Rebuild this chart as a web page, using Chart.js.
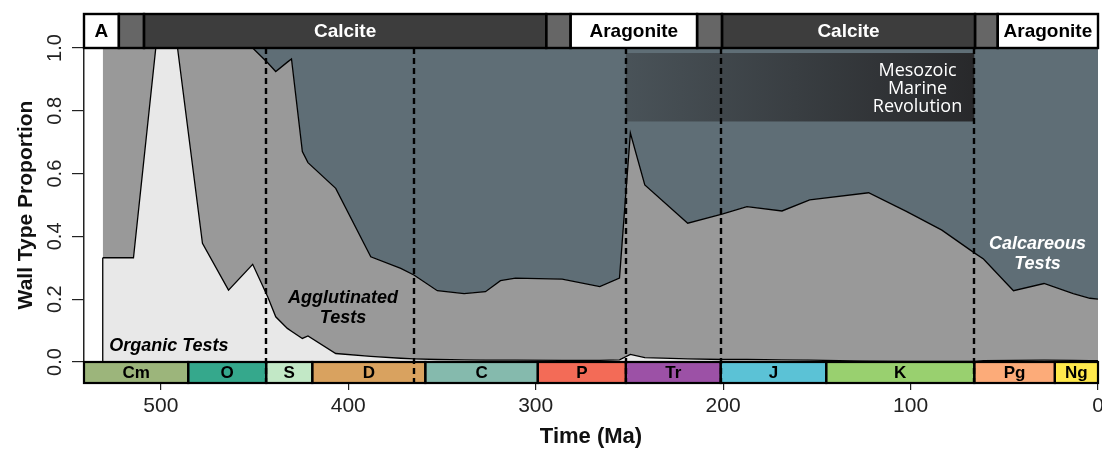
<!DOCTYPE html>
<html>
<head>
<meta charset="utf-8">
<script src="https://cdn.jsdelivr.net/npm/chart.js@4.4.1/dist/chart.umd.min.js"></script>
<style>
html,body{margin:0;padding:0;background:#fff;}
#wrap{width:1102px;height:450px;position:relative;}
</style>
</head>
<body>
<div id="wrap"><canvas id="c" width="1102" height="450"></canvas></div>
<script>
// ---- data (Ma, proportions) ----
const ages = [531, 514.6, 502.7, 491.1, 477.8, 463.9, 451, 443, 438.7, 432.5, 430.3, 424.5, 421.5, 406.7, 388, 372, 365, 352.5, 338.2, 326.8, 318.8, 310.8, 285.9, 265.8, 255.3, 249.5, 241.8, 218.9, 200.6, 187.3, 168.6, 153.8, 122.4, 102, 83.3, 65.6, 61.1, 45.1, 28.8, 13.2, 4.3, 0];
const organic = [0.332, 0.332, 1.0, 1.0, 0.378, 0.229, 0.311, 0.208, 0.144, 0.107, 0.098, 0.075, 0.083, 0.027, 0.018, 0.012, 0.010, 0.008, 0.007, 0.006, 0.006, 0.006, 0.005, 0.005, 0.007, 0.024, 0.014, 0.010, 0.008, 0.008, 0.007, 0.006, 0.003, 0.002, 0.002, 0.002, 0.004, 0.005, 0.006, 0.005, 0.004, 0.004];
const agglutinated = [0.668, 0.668, 0.0, 0.0, 0.622, 0.771, 0.689, 0.745, 0.781, 0.848, 0.867, 0.595, 0.552, 0.526, 0.317, 0.286, 0.267, 0.219, 0.211, 0.218, 0.253, 0.261, 0.259, 0.235, 0.260, 0.705, 0.550, 0.432, 0.463, 0.487, 0.474, 0.510, 0.536, 0.477, 0.418, 0.344, 0.324, 0.222, 0.244, 0.213, 0.199, 0.196];
const calcareous = [0, 0, 0, 0, 0, 0, 0, 0.047, 0.075, 0.045, 0.035, 0.330, 0.365, 0.447, 0.665, 0.702, 0.723, 0.773, 0.782, 0.776, 0.741, 0.733, 0.736, 0.760, 0.733, 0.271, 0.436, 0.558, 0.529, 0.505, 0.519, 0.484, 0.461, 0.521, 0.580, 0.654, 0.672, 0.773, 0.750, 0.782, 0.797, 0.800];

const xTicks = [500, 400, 300, 200, 100, 0];
const yTicks = [0, 0.2, 0.4, 0.6, 0.8, 1.0];

const periodNames = ['Cm', 'O', 'S', 'D', 'C', 'P', 'Tr', 'J', 'K', 'Pg', 'Ng'];
const periodBounds = [541, 485.4, 443.8, 419.2, 358.9, 298.9, 251.9, 201.3, 145, 66, 23.03, 0];
const periodColors = ['#9cb57b', '#35a88c', '#c2e8c6', '#d9a25f', '#85baad', '#f36b57', '#9c51a6', '#5bc2d6', '#99d06f', '#fcab79', '#ffe94c'];

const seaNames = ['A', '', 'Calcite', '', 'Aragonite', '', 'Calcite', '', 'Aragonite'];
const seaBounds = [541, 522.4, 509, 294.4, 281.4, 213.9, 200.6, 65.6, 53.5, 0];
const seaColors = ['#ffffff', '#666666', '#3d3d3d', '#666666', '#ffffff', '#666666', '#3d3d3d', '#666666', '#ffffff'];
const seaTextColors = ['#000', '#fff', '#fff', '#fff', '#000', '#fff', '#fff', '#fff', '#000'];

const extinctions = [443.8, 365, 251.9, 201.3, 66];
const mmrAges = [251.9, 66];
const mmrRange = [0.766, 0.984];
const mmrLines = ['Mesozoic', 'Marine', 'Revolution'];

const FONT = "'Liberation Sans', Arial, Helvetica, sans-serif";

const deco = {
  id: 'deco',
  afterDatasetsDraw(chart) {
    const {ctx, chartArea: ca, scales: {x, y}} = chart;
    ctx.save();
    // organic left edge
    const p0 = chart.getDatasetMeta(0).data[0];
    ctx.strokeStyle = '#000'; ctx.lineWidth = 1.3;
    ctx.beginPath(); ctx.moveTo(p0.x, y.getPixelForValue(0)); ctx.lineTo(p0.x, p0.y); ctx.stroke();

    // Mesozoic Marine Revolution box
    const xl = x.getPixelForValue(mmrAges[0]), xr = x.getPixelForValue(mmrAges[1]);
    const yt = y.getPixelForValue(mmrRange[1]), yb = y.getPixelForValue(mmrRange[0]);
    const g = ctx.createLinearGradient(xl, 0, xr, 0);
    g.addColorStop(0, 'rgba(38,38,40,0.38)');
    g.addColorStop(1, 'rgba(38,38,40,0.97)');
    ctx.fillStyle = g;
    ctx.fillRect(xl, yt, xr - xl, yb - yt);
    ctx.fillStyle = '#fff';
    ctx.font = "18px 'Open Sans', 'Liberation Sans', sans-serif";
    ctx.textAlign = 'center'; ctx.textBaseline = 'middle';
    const mx = x.getPixelForValue(96.3);
    const mys = [0.927, 0.870, 0.814];
    mmrLines.forEach((t, i) => ctx.fillText(t, mx, y.getPixelForValue(mys[i])));

    // period bar
    const barTop = ca.bottom, barH = 21;
    for (let i = 0; i < periodNames.length; i++) {
      const a = x.getPixelForValue(periodBounds[i]), b = x.getPixelForValue(periodBounds[i + 1]);
      ctx.fillStyle = periodColors[i];
      ctx.fillRect(a, barTop, b - a, barH);
    }
    ctx.strokeStyle = '#000'; ctx.lineWidth = 2.2;
    for (let i = 0; i < periodNames.length; i++) {
      const a = x.getPixelForValue(periodBounds[i]), b = x.getPixelForValue(periodBounds[i + 1]);
      ctx.strokeRect(a, barTop, b - a, barH);
      ctx.fillStyle = '#000';
      ctx.font = 'bold 17px ' + FONT;
      ctx.textAlign = 'center'; ctx.textBaseline = 'middle';
      ctx.fillText(periodNames[i], (a + b) / 2, barTop + barH / 2 + 1);
    }

    // extinction dashed lines
    ctx.setLineDash([6, 4]); ctx.lineWidth = 2.4; ctx.strokeStyle = '#000';
    extinctions.forEach(a => {
      const px = Math.round(x.getPixelForValue(a));
      ctx.beginPath(); ctx.moveTo(px, ca.top); ctx.lineTo(px, barTop + barH); ctx.stroke();
    });
    ctx.setLineDash([]);

    // area labels
    ctx.font = 'italic bold 18px ' + FONT;
    ctx.fillStyle = '#000';
    ctx.fillText('Organic Tests', x.getPixelForValue(495.7), y.getPixelForValue(0.052));
    ctx.fillText('Agglutinated', x.getPixelForValue(402.8), y.getPixelForValue(0.204));
    ctx.fillText('Tests', x.getPixelForValue(402.8), y.getPixelForValue(0.139));
    ctx.fillStyle = '#fff';
    ctx.fillText('Calcareous', x.getPixelForValue(32.3), y.getPixelForValue(0.376));
    ctx.fillText('Tests', x.getPixelForValue(32.3), y.getPixelForValue(0.312));

    // sea chemistry bar
    const topH = 34, topY = ca.top - topH;
    for (let i = 0; i < seaNames.length; i++) {
      const a = x.getPixelForValue(seaBounds[i]), b = x.getPixelForValue(seaBounds[i + 1]);
      ctx.fillStyle = seaColors[i];
      ctx.fillRect(a, topY, b - a, topH);
    }
    ctx.strokeStyle = '#000'; ctx.lineWidth = 2.4;
    for (let i = 0; i < seaNames.length; i++) {
      const a = x.getPixelForValue(seaBounds[i]), b = x.getPixelForValue(seaBounds[i + 1]);
      ctx.strokeRect(a, topY, b - a, topH);
      if (seaNames[i]) {
        ctx.fillStyle = seaTextColors[i];
        ctx.font = 'bold 19px ' + FONT;
        ctx.textAlign = 'center'; ctx.textBaseline = 'middle';
        ctx.fillText(seaNames[i], (a + b) / 2, topY + topH / 2 + 1);
      }
    }
    ctx.restore();
  }
};

const mk = arr => ages.map((a, i) => ({x: a, y: arr[i]}));

new Chart(document.getElementById('c'), {
  type: 'line',
  data: {
    datasets: [
      {label: 'Organic', data: mk(organic), fill: 'origin', backgroundColor: '#e8e8e8', borderColor: '#000', borderWidth: 1.3, pointRadius: 0, tension: 0},
      {label: 'Agglutinated', data: mk(agglutinated), fill: '-1', backgroundColor: '#999999', borderColor: '#000', borderWidth: 1.3, pointRadius: 0, tension: 0},
      {label: 'Calcareous', data: mk(calcareous), fill: '-1', backgroundColor: '#5f6e76', borderColor: 'rgba(0,0,0,0)', borderWidth: 0, pointRadius: 0, tension: 0}
    ]
  },
  options: {
    responsive: false,
    animation: false,
    events: [],
    devicePixelRatio: 1,
    layout: {padding: {top: 48, right: 4, left: 0, bottom: 0}},
    plugins: {legend: {display: false}, tooltip: {enabled: false}},
    scales: {
      x: {
        type: 'linear', reverse: true, min: 0, max: 541,
        afterBuildTicks: s => { s.ticks = xTicks.map(v => ({value: v})); },
        afterFit: s => { s.height = 88; s.paddingLeft = 0; s.paddingRight = 0; },
        grid: {display: true, drawOnChartArea: false, drawTicks: true, tickLength: 28, color: '#222', lineWidth: 1.2},
        border: {display: false},
        ticks: {font: {size: 21, family: FONT}, color: '#222', padding: 4, maxRotation: 0, autoSkip: false, callback: v => String(v)},
        title: {display: true, text: 'Time (Ma)', font: {size: 22, weight: 'bold', family: FONT}, color: '#111', padding: {top: 0, bottom: 0}}
      },
      y: {
        stacked: true, min: 0, max: 1,
        afterBuildTicks: s => { s.ticks = yTicks.map(v => ({value: v})); },
        afterFit: s => { s.width = 84; s.paddingTop = 0; s.paddingBottom = 0; },
        grid: {display: true, drawOnChartArea: false, drawTicks: true, tickLength: 12, color: '#222', lineWidth: 1.2},
        border: {display: true, color: '#222', width: 1.5},
        ticks: {font: {size: 20, family: FONT}, color: '#222', padding: 3, minRotation: 90, maxRotation: 90, crossAlign: 'center', autoSkip: false, callback: v => Number(v).toFixed(1)},
        title: {display: true, text: 'Wall Type Proportion', font: {size: 21, weight: 'bold', family: FONT}, color: '#111', padding: {top: 14, bottom: 0}}
      }
    }
  },
  plugins: [deco]
});
</script>
</body>
</html>
